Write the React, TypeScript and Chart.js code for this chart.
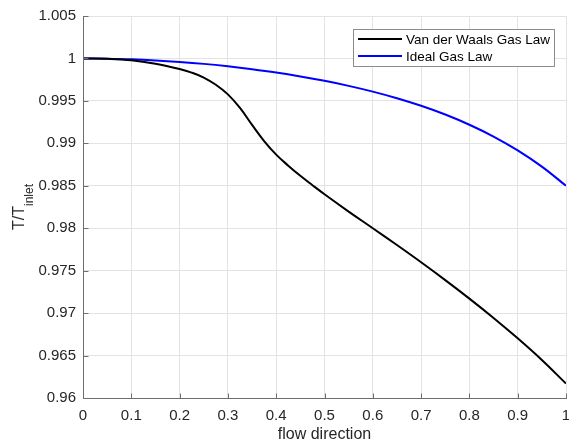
import React, { useEffect, useRef } from "react";
import { Chart, registerables } from "chart.js";

Chart.register(...registerables);

const xVdw = [0, 0.05, 0.1, 0.15, 0.2, 0.225, 0.25, 0.275, 0.3, 0.325, 0.35, 0.375, 0.4, 0.425, 0.45, 0.475, 0.5, 0.55, 0.6, 0.65, 0.7, 0.75, 0.8, 0.85, 0.9, 0.95, 1.0];
const yVdw = [1.0, 0.99996, 0.99979, 0.99937, 0.99875, 0.99833, 0.99775, 0.9969, 0.99577, 0.99417, 0.99217, 0.99027, 0.98867, 0.98737, 0.98617, 0.98507, 0.984, 0.98196, 0.98, 0.97802, 0.97599, 0.97389, 0.97171, 0.96943, 0.96703, 0.96448, 0.9617];

const xIdeal = [0, 0.05, 0.1, 0.15, 0.2, 0.25, 0.3, 0.35, 0.4, 0.45, 0.5, 0.55, 0.6, 0.65, 0.7, 0.75, 0.8, 0.85, 0.9, 0.95, 1.0];
const yIdeal = [1.0, 0.99997, 0.9999, 0.99977, 0.99959, 0.99936, 0.99907, 0.99873, 0.99834, 0.99788, 0.99736, 0.99677, 0.99609, 0.99531, 0.99442, 0.99339, 0.99219, 0.9908, 0.98917, 0.98726, 0.985];

const seriesLabels = ["Van der Waals Gas Law", "Ideal Gas Law"];
const seriesColors = ["#000000", "#0000ff"];

const xTitle = "flow direction";
const yTitleMain = "T/T";
const yTitleSub = "inlet";

const FONT = "'Liberation Sans', Arial, Helvetica, sans-serif";
const TEXT = "#262626";

const overlay = {
  id: "matlabOverlay",
  afterDraw(chart: any) {
    const { ctx, chartArea } = chart;
    const { left, right, top, bottom } = chartArea;
    const xs = chart.scales.x;
    const ys = chart.scales.y;
    ctx.save();
    ctx.strokeStyle = "#6e6e6e";
    ctx.lineWidth = 1;
    ctx.beginPath();
    const lx = Math.round(left) + 0.5;
    const by = Math.round(bottom) + 0.5;
    ctx.moveTo(lx, Math.round(top));
    ctx.lineTo(lx, by);
    ctx.lineTo(Math.round(right) + 1, by);
    ctx.stroke();
    ctx.beginPath();
    xs.ticks.forEach((t: any) => {
      const px = Math.round(xs.getPixelForValue(t.value)) + 0.5;
      ctx.moveTo(px, by);
      ctx.lineTo(px, by - 5);
    });
    ys.ticks.forEach((t: any) => {
      const py = Math.round(ys.getPixelForValue(t.value)) + 0.5;
      ctx.moveTo(lx, py);
      ctx.lineTo(lx + 5, py);
    });
    ctx.stroke();

    ctx.fillStyle = TEXT;
    ctx.font = `16px ${FONT}`;
    ctx.textAlign = "center";
    ctx.textBaseline = "alphabetic";
    ctx.fillText(xTitle, (left + right) / 2, 439);

    ctx.save();
    ctx.translate(24, (top + bottom) / 2);
    ctx.rotate(-Math.PI / 2);
    ctx.font = `16px ${FONT}`;
    const w1 = ctx.measureText(yTitleMain).width;
    ctx.font = `12px ${FONT}`;
    const w2 = ctx.measureText(yTitleSub).width;
    const start = -(w1 + w2) / 2;
    ctx.textAlign = "left";
    ctx.font = `16px ${FONT}`;
    ctx.fillText(yTitleMain, start, 0);
    ctx.font = `12px ${FONT}`;
    ctx.fillText(yTitleSub, start + w1, 8.5);
    ctx.restore();

    const bx = 353.5, bY = 29.5, bw = 201, bh = 37;
    ctx.fillStyle = "#ffffff";
    ctx.fillRect(bx, bY, bw, bh);
    ctx.strokeStyle = "#8c8c8c";
    ctx.lineWidth = 1;
    ctx.strokeRect(bx, bY, bw, bh);
    const rows = [39, 56];
    chart.data.datasets.forEach((ds: any, i: number) => {
      ctx.strokeStyle = ds.borderColor;
      ctx.lineWidth = 2;
      ctx.beginPath();
      ctx.moveTo(358, rows[i]);
      ctx.lineTo(402, rows[i]);
      ctx.stroke();
      ctx.fillStyle = "#000000";
      ctx.font = `13.5px ${FONT}`;
      ctx.textAlign = "left";
      ctx.textBaseline = "middle";
      ctx.fillText(ds.label, 406, rows[i] + 1);
    });
    ctx.restore();
  },
};

export default function App() {
  const ref = useRef<HTMLCanvasElement | null>(null);
  useEffect(() => {
    if (!ref.current) return;
    const chart = new Chart(ref.current, {
      type: "line",
      data: {
        datasets: [
          {
            label: seriesLabels[0],
            data: xVdw.map((x, i) => ({ x, y: yVdw[i] })),
            borderColor: seriesColors[0],
            backgroundColor: seriesColors[0],
            borderWidth: 2,
            pointRadius: 0,
            tension: 0.4,
          },
          {
            label: seriesLabels[1],
            data: xIdeal.map((x, i) => ({ x, y: yIdeal[i] })),
            borderColor: seriesColors[1],
            backgroundColor: seriesColors[1],
            borderWidth: 2,
            pointRadius: 0,
            tension: 0.4,
          },
        ],
      },
      options: {
        responsive: false,
        animation: false,
        layout: { padding: { top: 16, right: 3, left: 0, bottom: 0 } },
        plugins: { legend: { display: false }, tooltip: { enabled: false } },
        scales: {
          x: {
            type: "linear",
            min: 0,
            max: 1,
            ticks: {
              stepSize: 0.1,
              padding: 9,
              color: TEXT,
              font: { family: FONT, size: 15 },
              maxRotation: 0,
              autoSkip: false,
              callback: (v: any) => String(Math.round(Number(v) * 10) / 10),
            },
            grid: { color: "#e3e3e3", drawTicks: false },
            border: { display: false },
            afterFit: (s: any) => {
              s.height = 47;
              s.paddingRight = 0;
              s.paddingLeft = 0;
            },
          },
          y: {
            type: "linear",
            min: 0.96,
            max: 1.005,
            ticks: {
              stepSize: 0.005,
              padding: 7,
              color: TEXT,
              font: { family: FONT, size: 15 },
              autoSkip: false,
              callback: (v: any) => String(Math.round(Number(v) * 1000) / 1000),
            },
            grid: { color: "#e3e3e3", drawTicks: false },
            border: { display: false },
            afterFit: (s: any) => {
              s.width = 83;
              s.paddingTop = 0;
              s.paddingBottom = 0;
            },
          },
        },
      },
      plugins: [overlay],
    });
    return () => chart.destroy();
  }, []);
  return (
    <div style={{ position: "fixed", left: 0, top: 0, width: 569, height: 445, background: "#fff" }}>
      <canvas ref={ref} width={569} height={445} />
    </div>
  );
}
